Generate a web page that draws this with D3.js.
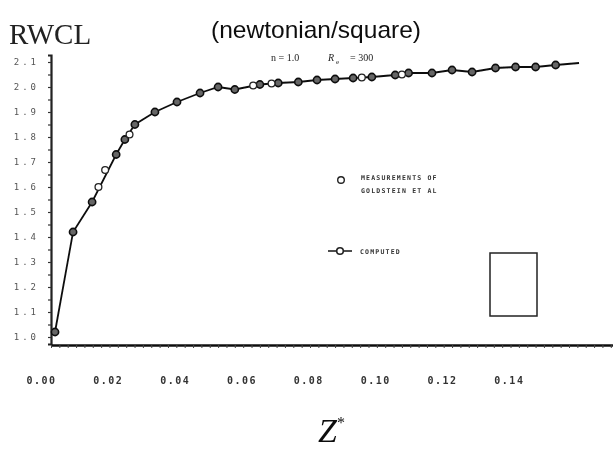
<!DOCTYPE html>
<html>
<head>
<meta charset="utf-8">
<script src="https://cdn.jsdelivr.net/npm/d3@7"></script>
<style>
  body { margin: 0; background: #fff; }
  svg { display: block; }
</style>
</head>
<body>
<div id="chart"></div>
<script>
// values
var computedZ = [0.0012, 0.0066, 0.0123, 0.0195, 0.0221, 0.0251, 0.0311, 0.0377, 0.0446, 0.0500,
                 0.0550, 0.0625, 0.0680, 0.0740, 0.0796, 0.0850, 0.0904, 0.0960, 0.1030, 0.1070,
                 0.1140, 0.1200, 0.1260, 0.1330, 0.1390, 0.1450, 0.1510];
var computedRWCL = [1.02, 1.42, 1.54, 1.73, 1.79, 1.85, 1.90, 1.94, 1.976, 2.00,
                    1.99, 2.01, 2.016, 2.02, 2.028, 2.032, 2.036, 2.04, 2.048, 2.056,
                    2.056, 2.068, 2.06, 2.076, 2.08, 2.08, 2.088];
var lineEnd = [0.158, 2.096];

var measuredZ = [0.0142, 0.0162, 0.0235, 0.0605, 0.0660, 0.0930, 0.1050];
var measuredRWCL = [1.60, 1.668, 1.81, 2.006, 2.014, 2.038, 2.05];

var xTicks = [0, 0.02, 0.04, 0.06, 0.08, 0.10, 0.12, 0.14];
var xTickLabels = ["0.00", "0.02", "0.04", "0.06", "0.08", "0.10", "0.12", "0.14"];
var yTicks = [1.0, 1.1, 1.2, 1.3, 1.4, 1.5, 1.6, 1.7, 1.8, 1.9, 2.0, 2.1];

var w = 614,
    h = 452;

var svg = d3.select("#chart").append("svg")
    .attr("width", w)
    .attr("height", h);

// a bit of blur so it looks like the photocopy
svg.append("defs").append("filter")
    .attr("id", "scan")
    .attr("x", 0).attr("y", 0).attr("width", 1).attr("height", 1)
    .attr("filterUnits", "userSpaceOnUse")
    .append("feGaussianBlur")
    .attr("stdDeviation", 0.55);
svg.select("#scan").attr("width", w).attr("height", h);

var g = svg.append("g").attr("filter", "url(#scan)");

//scales
var x = d3.scaleLinear().domain([0, 0.168]).range([51, 51 + 0.168 * 3342]);
var y = d3.scaleLinear().domain([0.972, 2.128]).range([344, 55]);

//y axis
var yAxis = d3.axisLeft(y)
    .tickValues(d3.range(1.0, 2.101, 0.05))
    .tickSize(3)
    .tickFormat(function (d) {
        var near = yTicks.filter(function (t) { return Math.abs(t - d) < 1e-6; });
        return near.length ? d3.format(".1f")(d) : "";
    });

var yg = g.append("g")
    .attr("transform", "translate(51,0)")
    .call(yAxis);
yg.select(".domain").attr("stroke-width", 2.2).attr("stroke", "#222");
yg.selectAll(".tick line").attr("stroke", "#333").attr("stroke-width", 1.2);
yg.selectAll(".tick text")
    .attr("x", -12)
    .attr("font-family", "DejaVu Sans Mono")
    .attr("font-size", "9px")
    .attr("letter-spacing", "3px")
    .attr("fill", "#555");

//x axis
var xAxis = d3.axisBottom(x)
    .tickValues(d3.range(0, 0.168, 0.0025))
    .tickSize(3)
    .tickSizeOuter(0)
    .tickFormat(function (d) {
        for (var i = 0; i < xTicks.length; i++) {
            if (Math.abs(xTicks[i] - d) < 1e-6) return xTickLabels[i];
        }
        return "";
    });

var xg = g.append("g")
    .attr("transform", "translate(0,345)")
    .call(xAxis);
xg.select(".domain").attr("stroke-width", 2.6).attr("stroke", "#111");
xg.selectAll(".tick line").attr("stroke", "#444").attr("stroke-width", 1);
xg.selectAll(".tick text")
    .attr("dx", -10)
    .attr("y", 32)
    .attr("font-family", "DejaVu Sans Mono")
    .attr("font-size", "10px")
    .attr("font-weight", "bold")
    .attr("letter-spacing", "1.5px")
    .attr("fill", "#333");

//computed line
var computed = computedZ.map(function (d, i) { return {z: d, v: computedRWCL[i]}; });
var lineData = computed.concat([{z: lineEnd[0], v: lineEnd[1]}]);

var line = d3.line()
    .x(function (d) { return x(d.z); })
    .y(function (d) { return y(d.v); });

g.append("path")
    .datum(lineData)
    .attr("d", line)
    .attr("fill", "none")
    .attr("stroke", "#111")
    .attr("stroke-width", 1.8);

g.append("g").selectAll("circle")
    .data(computed)
    .enter()
    .append("circle")
    .attr("cx", function (d) { return x(d.z); })
    .attr("cy", function (d) { return y(d.v); })
    .attr("r", 3.6)
    .attr("fill", "#666")
    .attr("stroke", "#111")
    .attr("stroke-width", 1.6);

//measurements, open circles
var measured = measuredZ.map(function (d, i) { return {z: d, v: measuredRWCL[i]}; });
g.append("g").selectAll("circle")
    .data(measured)
    .enter()
    .append("circle")
    .attr("cx", function (d) { return x(d.z); })
    .attr("cy", function (d) { return y(d.v); })
    .attr("r", 3.4)
    .attr("fill", "#fff")
    .attr("stroke", "#222")
    .attr("stroke-width", 1.3);

//titles
g.append("text")
    .attr("x", 9)
    .attr("y", 44)
    .attr("font-family", "Liberation Serif")
    .attr("font-size", "29px")
    .attr("fill", "#222")
    .text("RWCL");

g.append("text")
    .attr("x", 211)
    .attr("y", 38)
    .attr("font-family", "Liberation Sans Narrow, Liberation Sans")
    .attr("font-size", "24px")
    .attr("textLength", 210)
    .attr("lengthAdjust", "spacingAndGlyphs")
    .attr("fill", "#111")
    .text("(newtonian/square)");

//parameters line, n = 1.0  R_e = 300
var par = g.append("g")
    .attr("font-family", "Liberation Serif")
    .attr("font-size", "10px")
    .attr("fill", "#222");
par.append("text").attr("x", 271).attr("y", 61).text("n = 1.0");
par.append("text").attr("x", 328).attr("y", 61).attr("font-style", "italic").text("R");
par.append("text").attr("x", 336).attr("y", 64).attr("font-size", "7px").text("e");
par.append("text").attr("x", 350).attr("y", 61).text("= 300");

//legend
var leg = g.append("g").attr("font-family", "DejaVu Sans Mono")
    .attr("font-size", "6.5px")
    .attr("font-weight", "bold")
    .attr("letter-spacing", "1.2px")
    .attr("fill", "#333");

leg.append("circle")
    .attr("cx", 341).attr("cy", 180).attr("r", 3.3)
    .attr("fill", "#fff").attr("stroke", "#222").attr("stroke-width", 1.4);
leg.append("text").attr("x", 361).attr("y", 180).text("MEASUREMENTS OF");
leg.append("text").attr("x", 361).attr("y", 193).text("GOLDSTEIN ET AL");

leg.append("line")
    .attr("x1", 328).attr("x2", 352).attr("y1", 251).attr("y2", 251)
    .attr("stroke", "#222").attr("stroke-width", 1.6);
leg.append("circle")
    .attr("cx", 340).attr("cy", 251).attr("r", 3.3)
    .attr("fill", "#fff").attr("stroke", "#222").attr("stroke-width", 1.6);
leg.append("text").attr("x", 360).attr("y", 254).text("COMPUTED");

//the little box
g.append("rect")
    .attr("x", 490)
    .attr("y", 253)
    .attr("width", 47)
    .attr("height", 63)
    .attr("fill", "none")
    .attr("stroke", "#222")
    .attr("stroke-width", 1.5);

//x title
var zt = g.append("text")
    .attr("x", 318)
    .attr("y", 442)
    .attr("font-family", "Liberation Serif")
    .attr("font-style", "italic")
    .attr("font-size", "34px")
    .attr("fill", "#111");
zt.append("tspan").text("Z");
zt.append("tspan").attr("dy", -14).attr("font-size", "16px").attr("font-style", "normal").text("*");
</script>
</body>
</html>
